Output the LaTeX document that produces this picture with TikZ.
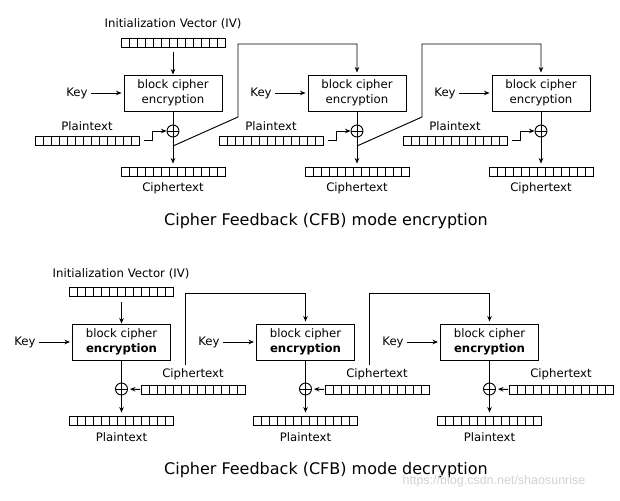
\documentclass[tikz,border=0pt]{standalone}
\usepackage{fontspec}
\setmainfont{DejaVu Sans}
\newfontfamily\wmfont{Liberation Sans}
\usetikzlibrary{
  arrows.meta,
  positioning,
  calc
}

\begin{document}
\begin{tikzpicture}[
  x=1pt, y=-1pt,
  font=\fontsize{11.7}{15}\selectfont,
  cipher/.style={draw, line width=0.95pt, minimum width=98pt, minimum height=36pt, align=center, inner sep=2pt},
  xor/.style={draw, circle, line width=0.95pt, minimum size=12pt, inner sep=0pt,
    path picture={\draw[line width=0.95pt] (path picture bounding box.north) -- (path picture bounding box.south)
      (path picture bounding box.west) -- (path picture bounding box.east);}},
  reg/.style={draw, line width=0.95pt, minimum width=104pt, minimum height=9pt, inner sep=0pt,
    path picture={\foreach \k in {1,...,12}
      \draw[line width=0.95pt] ([xshift={\k*8pt}]path picture bounding box.south west) -- ([xshift={\k*8pt}]path picture bounding box.north west);}},
  line/.style={line width=0.95pt},
  arr/.style={-{Stealth[length=5.5pt,width=4.5pt]}, line width=0.95pt},
  title/.style={font=\fontsize{16}{19}\selectfont}
]
\useasboundingbox (0,0) rectangle (620,500);

% Encryption: initialization vector
\node (ivEl) at (173,24) {Initialization Vector (IV)};
\node[reg] (ivE) at (173,42.5) {};

% Encryption, stage 1
\node[cipher] (enc1) at (173,93) {block cipher\\encryption};
\node (keyE1) at (77,93) {Key};
\node[xor] (xE1) at (173,131) {};
\node (ptE1l) at (87,126) {Plaintext};
\node[reg] (ptE1) at (87.5,140.5) {};
\node[reg] (ctE1) at (173,171.5) {};
\node (ctE1l) at (173,188) {Ciphertext};
\coordinate (fE1) at (173,146);

% Encryption, stage 2
\node[cipher] (enc2) at (357,93) {block cipher\\encryption};
\node (keyE2) at (261,93) {Key};
\node[xor] (xE2) at (357,131) {};
\node (ptE2l) at (271,126) {Plaintext};
\node[reg] (ptE2) at (271.5,140.5) {};
\node[reg] (ctE2) at (357,171.5) {};
\node (ctE2l) at (357,188) {Ciphertext};
\coordinate (fE2) at (357,146);

% Encryption, stage 3
\node[cipher] (enc3) at (541,93) {block cipher\\encryption};
\node (keyE3) at (445,93) {Key};
\node[xor] (xE3) at (541,131) {};
\node (ptE3l) at (455,126) {Plaintext};
\node[reg] (ptE3) at (455.5,140.5) {};
\node[reg] (ctE3) at (541,171.5) {};
\node (ctE3l) at (541,188) {Ciphertext};

% Encryption arrows
\draw[arr, shorten <=5pt] (ivE) -- (enc1);
\foreach \i in {1,2,3} {
  \draw[arr, shorten >=2pt] (keyE\i) -- (enc\i);
  \draw[line] (enc\i) -- (xE\i);
  \draw[arr, shorten >=3pt] (xE\i) -- (ctE\i);
  \draw[arr, shorten <=4pt] (ptE\i.east) -- ++(12,0) |- (xE\i.west);
}
\draw[arr, shorten >=2pt] (fE1) -- ++(65,-29) -- ++(0,-73) -| (enc2.north);
\draw[arr, shorten >=2pt] (fE2) -- ++(65,-29) -- ++(0,-73) -| (enc3.north);

\node[title] (tE) at (326,221) {Cipher Feedback (CFB) mode encryption};

% Decryption: initialization vector
\node (ivDl) at (121,274) {Initialization Vector (IV)};
\node[reg] (ivD) at (121.5,291.5) {};

% Decryption, stage 1
\node[cipher] (dec1) at (121.5,342) {block cipher\\\textbf{encryption}};
\node (keyD1) at (25,342) {Key};
\node[xor] (xD1) at (121.5,389) {};
\node (ctD1l) at (193,374) {Ciphertext};
\node[reg] (ctD1) at (193.5,389.5) {};
\node[reg] (ptD1) at (121.5,420.5) {};
\node (ptD1l) at (121.5,437) {Plaintext};

% Decryption, stage 2
\node[cipher] (dec2) at (305.5,342) {block cipher\\\textbf{encryption}};
\node (keyD2) at (209,342) {Key};
\node[xor] (xD2) at (305.5,389) {};
\node (ctD2l) at (377,374) {Ciphertext};
\node[reg] (ctD2) at (377.5,389.5) {};
\node[reg] (ptD2) at (305.5,420.5) {};
\node (ptD2l) at (305.5,437) {Plaintext};

% Decryption, stage 3
\node[cipher] (dec3) at (489.5,342) {block cipher\\\textbf{encryption}};
\node (keyD3) at (393,342) {Key};
\node[xor] (xD3) at (489.5,389) {};
\node (ctD3l) at (561,374) {Ciphertext};
\node[reg] (ctD3) at (561.5,389.5) {};
\node[reg] (ptD3) at (489.5,420.5) {};
\node (ptD3l) at (489.5,437) {Plaintext};

% Decryption arrows
\draw[arr, shorten <=6pt] (ivD) -- (dec1);
\foreach \i in {1,2,3} {
  \draw[arr, shorten >=2pt] (keyD\i) -- (dec\i);
  \draw[line] (dec\i) -- (xD\i);
  \draw[arr, shorten >=3pt] (xD\i) -- (ptD\i);
  \draw[arr, shorten <=1pt, shorten >=2pt] (ctD\i.west) -- (xD\i.east);
}
\coordinate (fD1) at (185.5,365);
\coordinate (fD2) at (369.5,365);
\draw[arr, shorten >=2pt] (fD1) -- ++(0,-72) -| (dec2.north);
\draw[arr, shorten >=2pt] (fD2) -- ++(0,-72) -| (dec3.north);

\node[title] (tD) at (326,470) {Cipher Feedback (CFB) mode decryption};

% watermark
\node[font=\wmfont\fontsize{12.5}{14}\selectfont, text=gray!35] (wm) at (494,481) {https://blog.csdn.net/shaosunrise};

\end{tikzpicture}
\end{document}
